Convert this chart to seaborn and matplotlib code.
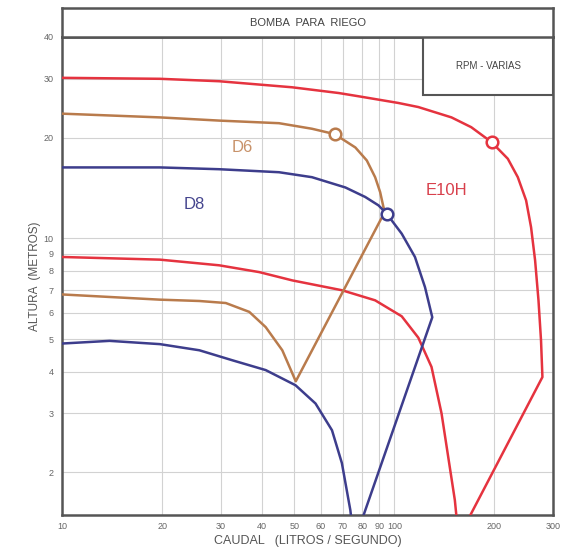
import numpy as np
import pandas as pd
import matplotlib
matplotlib.use("Agg")
import matplotlib.pyplot as plt
from matplotlib.patches import Rectangle
import seaborn as sns

# ---------------- data (caudal l/s, altura m) ----------------
e10h_top_q = [10, 19.7, 29.7, 49.2, 68, 78, 102.8, 118, 148.5, 170.3, 196, 219.4, 235.1,
              249, 257.7, 265, 271.3, 276.1, 278.8, 169.3, 160]
e10h_top_h = [30.2, 30.0, 29.5, 28.3, 27.2, 26.6, 25.4, 24.7, 23.0, 21.5, 19.4, 17.3, 15.24,
              12.99, 10.8, 8.6, 6.53, 4.96, 3.85, 1.49, 1.35]
e10h_low_q = [10, 19.7, 29.7, 39.2, 49.3, 69.5, 87.5, 105.2, 118, 129.3, 138.6, 152, 154.5]
e10h_low_h = [8.8, 8.64, 8.31, 7.93, 7.49, 7.0, 6.53, 5.85, 5.05, 4.13, 3.0, 1.65, 1.40]

d6_q = [10, 19.7, 29.7, 44.96, 56.5, 66.1, 76.3, 82.6, 87.5, 90.6, 92.7, 93.7,
        50.5, 46.0, 41.0, 36.6, 31.1, 25.9, 19.7, 10]
d6_h = [23.6, 23.0, 22.5, 22.1, 21.27, 20.5, 18.7, 17.1, 15.24, 13.75, 12.4, 12.04,
        3.74, 4.63, 5.43, 6.03, 6.41, 6.5, 6.56, 6.8]

d8_top_q = [10, 19.7, 29.7, 44.96, 56.5, 68, 71.2, 81.7, 89.6, 94.8, 105.2, 115.3, 123.6, 130, 80.8, 78]
d8_top_h = [16.3, 16.3, 16.1, 15.77, 15.24, 14.4, 14.2, 13.3, 12.55, 11.85, 10.33, 8.8, 7.15, 5.81, 1.49, 1.35]
d8_low_q = [10, 13.9, 19.7, 25.9, 32.6, 41.0, 50.4, 57.9, 64.9, 69.5, 73.7, 74.5]
d8_low_h = [4.85, 4.94, 4.83, 4.63, 4.32, 4.04, 3.64, 3.21, 2.67, 2.13, 1.54, 1.40]

marker_q = [66.1, 94.8, 196]
marker_h = [20.5, 11.85, 19.4]
marker_pump = ["D6", "D8", "E10H"]

x_ticks = [10, 20, 30, 40, 50, 60, 70, 80, 90, 100, 200, 300]
y_ticks = [2, 3, 4, 5, 6, 7, 8, 9, 10, 20, 30, 40]

colors = {"E10H": "#e5333f", "D6": "#b97b4c", "D8": "#3d3d8c"}
label_colors = {"E10H": "#d8404c", "D6": "#c8926a", "D8": "#45458e"}
label_pos = {"D6": (34.8, 18.65), "D8": (25.0, 12.6), "E10H": (143.0, 13.9)}

# ---------------- build tables ----------------
def part(q, h, pump, name):
    return pd.DataFrame({"q": q, "h": h, "pump": pump, "part": name})

curves = pd.concat([
    part(e10h_top_q, e10h_top_h, "E10H", "e_top"),
    part(e10h_low_q, e10h_low_h, "E10H", "e_low"),
    part(d6_q, d6_h, "D6", "d6"),
    part(d8_top_q, d8_top_h, "D8", "d8_top"),
    part(d8_low_q, d8_low_h, "D8", "d8_low"),
], ignore_index=True)
markers = pd.DataFrame({"q": marker_q, "h": marker_h, "pump": marker_pump})

# ---------------- figure ----------------
sns.set_style("white")
plt.rcParams["font.family"] = ["Liberation Sans", "DejaVu Sans"]

fig = plt.figure(figsize=(5.71, 5.48), dpi=100)
ax = fig.add_axes([62 / 571, 1 - 515 / 548, 491 / 571, 478 / 548])
tax = fig.add_axes([62 / 571, 1 - 37 / 548, 491 / 571, 29 / 548])

ax.set_xscale("log")
ax.set_yscale("log")

for pump in ["E10H", "D6", "D8"]:
    sub = curves[curves["pump"] == pump]
    sns.lineplot(data=sub, x="q", y="h", units="part", estimator=None, sort=False,
                 color=colors[pump], linewidth=1.8, ax=ax, zorder=4)

for pump in marker_pump:
    sub = markers[markers["pump"] == pump]
    sns.scatterplot(data=sub, x="q", y="h", ax=ax, s=70, facecolor="white",
                    edgecolor=colors[pump], linewidth=1.8, zorder=5, legend=False)

ax.set_xlim(10, 300)
ax.set_ylim(1.49, 40)

ax.set_xticks(x_ticks)
ax.set_xticklabels([str(v) for v in x_ticks])
ax.set_yticks(y_ticks)
ax.set_yticklabels([str(v) for v in y_ticks])
ax.minorticks_off()
ax.tick_params(axis="both", length=0, labelsize=6.5, labelcolor="#666666")
ax.tick_params(axis="x", pad=5)
ax.tick_params(axis="y", pad=6)
ax.grid(True, which="major", color="#d2d2d2", linewidth=0.8)
ax.set_axisbelow(True)

for sp in ax.spines.values():
    sp.set_color("#555555")
    sp.set_linewidth(1.8)

ax.set_xlabel("CAUDAL   (LITROS / SEGUNDO)", fontsize=9, color="#555555", labelpad=3)
ax.set_ylabel("ALTURA  (METROS)", fontsize=8.5, color="#555555", labelpad=2)

# RPM box
ax.add_patch(Rectangle((361 / 491, 1 - 58 / 478), 130 / 491, 58 / 478, transform=ax.transAxes,
                       facecolor="white", edgecolor="#555555", linewidth=1.5, zorder=6))
ax.text((488 - 62) / 491, 1 - 29 / 478, "RPM - VARIAS", transform=ax.transAxes,
        ha="center", va="center", fontsize=7, color="#444444", zorder=7)

# curve labels
for name, (lx, ly) in label_pos.items():
    ax.text(lx, ly, name, ha="center", va="center", fontsize=12, color=label_colors[name])

# title box
tax.set_xticks([])
tax.set_yticks([])
for sp in tax.spines.values():
    sp.set_color("#555555")
    sp.set_linewidth(1.8)
tax.text(0.5, 0.5, "BOMBA  PARA  RIEGO", ha="center", va="center", fontsize=8,
         color="#444444", transform=tax.transAxes)

fig.savefig("out.png", dpi=100)
